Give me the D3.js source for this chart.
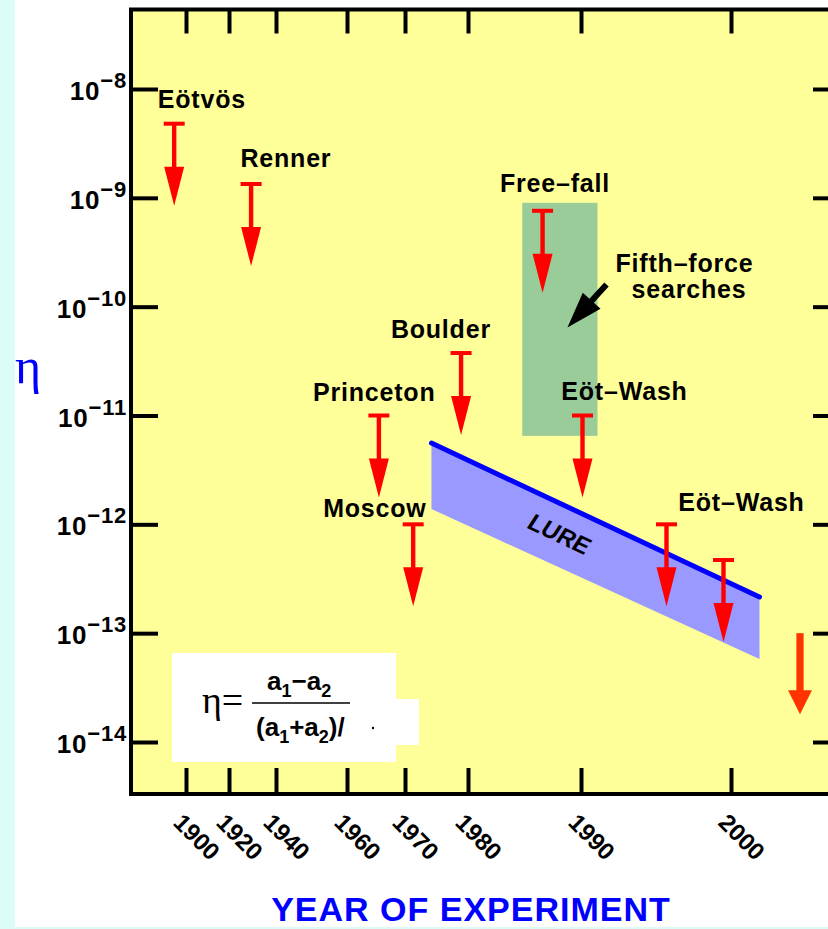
<!DOCTYPE html>
<html>
<head>
<meta charset="utf-8">
<script src="https://cdn.jsdelivr.net/npm/d3@7"></script>
<style>
  html, body { margin: 0; padding: 0; background: #ffffff; }
  svg { display: block; }
  text { font-family: "Liberation Sans", Arial, Helvetica, sans-serif; }
</style>
</head>
<body>
<svg id="chart" width="828" height="929"></svg>
<script>
// ---- data -------------------------------------------------------------
// Year ticks of the (non-uniform) time axis
const yearTicks = [1900, 1920, 1940, 1960, 1970, 1980, 1990, 2000];
// Decade ticks of the η axis, as powers of ten
const etaExponents = [-8, -9, -10, -11, -12, -13, -14];

// Upper limits on η set by each experiment
const limitYears  = [1894.5, 1929.4, 1965.5, 1971.3, 1978.9, 1986.6, 1990.1, 1995.7, 1999.5];
const limitValues = [4.8e-9, 1.34e-9, 1e-11, 1e-12, 3.75e-11, 7.6e-10, 1e-11, 1e-12, 4.7e-13];

// Experiment names and where they sit (year, η at the text baseline)
const labelTexts = ["Eötvös", "Renner", "Free–fall", "Boulder", "Princeton", "Eöt–Wash", "Moscow", "Eöt–Wash"];
const labelYears = [1907.4, 1942.8, 1987.7, 1975.7, 1964.7, 1992.9, 1964.8, 2000.7];
const labelEtas  = [6.7e-9, 1.94e-9, 1.13e-9, 5.14e-11, 1.36e-11, 1.39e-11, 1.16e-12, 1.32e-12];

// Fifth-force search region
const fifthYears = [1984.8, 1991.1];
const fifthEtas  = [6.5e-12, 9.0e-10];
const fifthLabelLines = ["Fifth–force", "searches"];
const fifthLabelYears = [1996.9, 1997.2];
const fifthLabelEtas  = [2.08e-10, 1.2e-10];
// pointer from the caption into the region: [tail, tip]
const fifthPointerYears = [1991.7, 1988.8];
const fifthPointerEtas  = [1.6e-10, 6.45e-11];

// Lunar laser ranging band: start/end years, upper and lower edges
const lureYears = [1974.2, 2001.9];
const lureUpper = [5.58e-12, 2.15e-13];
const lureLower = [1.38e-12, 5.78e-14];
const lureLabelYear = 1987.7;
const lureLabelEta  = 7.0e-13;

// Projected future sensitivity
const projectionYear = 2004.6;
const projectionEtas = [1e-13, 1.8e-14];

// ---- layout -----------------------------------------------------------
const W = 828, H = 929;
const plotLeft = 131, plotRight = 841, plotTop = 9.5, plotBottom = 794;
const yearTickX = [186, 229, 276, 347, 405, 468, 581, 731];

const x = d3.scaleLinear().domain(yearTicks).range(yearTickX);
const y = d3.scaleLog().domain([1e-14, 1e-8]).range([742, 89]);

const svg = d3.select("#chart");

// page frame
svg.append("rect").attr("x", 0).attr("y", 0).attr("width", W).attr("height", H).attr("fill", "#ffffff");

// plot background
svg.append("rect")
  .attr("x", plotLeft).attr("y", plotTop)
  .attr("width", plotRight - plotLeft).attr("height", plotBottom - plotTop)
  .attr("fill", "#ffff99");

// fifth-force region
svg.append("rect")
  .attr("x", x(fifthYears[0])).attr("y", y(fifthEtas[1]))
  .attr("width", x(fifthYears[1]) - x(fifthYears[0]))
  .attr("height", y(fifthEtas[0]) - y(fifthEtas[1]))
  .attr("fill", "#99cc99");

// LURE band
const lureBand = [
  [x(lureYears[0]), y(lureUpper[0])],
  [x(lureYears[1]), y(lureUpper[1])],
  [x(lureYears[1]), y(lureLower[1])],
  [x(lureYears[0]), y(lureLower[0])]
];
svg.append("path")
  .attr("d", d3.line()(lureBand) + "Z")
  .attr("fill", "#9999ff");
svg.append("line")
  .attr("x1", x(lureYears[0])).attr("y1", y(lureUpper[0]))
  .attr("x2", x(lureYears[1])).attr("y2", y(lureUpper[1]))
  .attr("stroke", "#0000ff").attr("stroke-width", 5).attr("stroke-linecap", "round");

const lx = x(lureLabelYear), ly = y(lureLabelEta);
const lureAngle = Math.atan2(y(lureUpper[1]) - y(lureUpper[0]), x(lureYears[1]) - x(lureYears[0])) * 180 / Math.PI;
svg.append("text")
  .attr("transform", `translate(${lx},${ly}) rotate(${lureAngle}) skewX(-8)`)
  .attr("text-anchor", "middle")
  .attr("font-size", 24).attr("font-weight", "bold")
  .text("LURE");

// upper-limit arrows
const limits = limitYears.map((yr, i) => ({ year: yr, value: limitValues[i] }));
const arrowG = svg.append("g").attr("fill", "#ff0000");
limits.forEach(d => {
  const cx = x(d.year), cy = y(d.value);
  // cap marking the limit
  arrowG.append("rect").attr("x", cx - 10.5).attr("y", cy - 2).attr("width", 21).attr("height", 4);
  // stem
  arrowG.append("rect").attr("x", cx - 2.2).attr("y", cy).attr("width", 4.4).attr("height", 46);
  // head
  arrowG.append("path").attr("d", d3.line()([[cx - 10, cy + 43], [cx + 10, cy + 43], [cx, cy + 82]]) + "Z");
});

// projected sensitivity arrow
{
  const cx = x(projectionYear), y0 = y(projectionEtas[0]), y1 = y(projectionEtas[1]);
  const g = svg.append("g").attr("fill", "#ff3300");
  g.append("rect").attr("x", cx - 3.6).attr("y", y0).attr("width", 7.2).attr("height", (y1 - y0) - 22);
  g.append("path").attr("d", d3.line()([[cx - 12, y1 - 24], [cx + 12, y1 - 24], [cx, y1]]) + "Z");
}

// experiment labels
labelTexts.forEach((t, i) => {
  svg.append("text")
    .attr("x", x(labelYears[i])).attr("y", y(labelEtas[i]))
    .attr("text-anchor", "middle")
    .attr("font-size", 25).attr("font-weight", "bold")
    .attr("letter-spacing", 0.8)
    .text(t);
});
fifthLabelLines.forEach((t, i) => {
  svg.append("text")
    .attr("x", x(fifthLabelYears[i])).attr("y", y(fifthLabelEtas[i]))
    .attr("text-anchor", "middle")
    .attr("font-size", 25).attr("font-weight", "bold")
    .attr("letter-spacing", 0.8)
    .text(t);
});

// pointer into the fifth-force region
{
  const tx = x(fifthPointerYears[0]), ty = y(fifthPointerEtas[0]);
  const px = x(fifthPointerYears[1]), py = y(fifthPointerEtas[1]);
  const len = Math.hypot(px - tx, py - ty);
  const ux = (px - tx) / len, uy = (py - ty) / len;
  const nx = -uy, ny = ux;
  const headLen = 36, headHalf = 12, shaftHalf = 3;
  const bx = px - ux * headLen, by = py - uy * headLen;
  const pts = [
    [tx + nx * shaftHalf, ty + ny * shaftHalf],
    [bx + nx * shaftHalf, by + ny * shaftHalf],
    [bx + nx * headHalf, by + ny * headHalf],
    [px, py],
    [bx - nx * headHalf, by - ny * headHalf],
    [bx - nx * shaftHalf, by - ny * shaftHalf],
    [tx - nx * shaftHalf, ty - ny * shaftHalf]
  ];
  svg.append("path").attr("d", d3.line()(pts) + "Z").attr("fill", "#000000");
}

// definition of η
{
  const g = svg.append("g");
  g.append("rect").attr("x", 172).attr("y", 653).attr("width", 224).attr("height", 109).attr("fill", "#ffffff");
  g.append("text").attr("x", 202).attr("y", 713)
    .style("font-family", "'Liberation Serif', 'Times New Roman', serif")
    .attr("font-size", 38).text("η=");
  g.append("line").attr("x1", 252).attr("x2", 352).attr("y1", 703).attr("y2", 703)
    .attr("stroke", "#000").attr("stroke-width", 1.5);
  const num = g.append("text").attr("x", 267).attr("y", 690).attr("font-size", 26).attr("font-weight", "bold");
  num.append("tspan").text("a");
  num.append("tspan").attr("font-size", 18).attr("dy", 7).text("1");
  num.append("tspan").attr("dy", -7).text("−a");
  num.append("tspan").attr("font-size", 18).attr("dy", 7).text("2");
  const den = g.append("text").attr("x", 256).attr("y", 736).attr("font-size", 26).attr("font-weight", "bold");
  den.append("tspan").text("(a");
  den.append("tspan").attr("font-size", 18).attr("dy", 7).text("1");
  den.append("tspan").attr("dy", -7).text("+a");
  den.append("tspan").attr("font-size", 18).attr("dy", 7).text("2");
  den.append("tspan").attr("dy", -7).text(")/");
  g.append("rect").attr("x", 350).attr("y", 699).attr("width", 69).attr("height", 46).attr("fill", "#ffffff");
  g.append("circle").attr("cx", 373).attr("cy", 728).attr("r", 1.2).attr("fill", "#000");
}

// ---- axes -------------------------------------------------------------
const tickStyle = sel => {
  sel.select(".domain").remove();
  sel.selectAll(".tick line").attr("stroke", "#000").attr("stroke-width", 4);
  sel.selectAll(".tick text").remove();
};
const etaTicks = etaExponents.map(e => Math.pow(10, e));

svg.append("g").attr("transform", `translate(${plotLeft},0)`)
  .call(d3.axisLeft(y).tickValues(etaTicks).tickSize(-27).tickSizeOuter(0))
  .call(tickStyle);
svg.append("g").attr("transform", `translate(${plotRight},0)`)
  .call(d3.axisRight(y).tickValues(etaTicks).tickSize(-28).tickSizeOuter(0))
  .call(tickStyle);
svg.append("g").attr("transform", `translate(0,${plotBottom})`)
  .call(d3.axisBottom(x).tickValues(yearTicks).tickSize(-26).tickSizeOuter(0))
  .call(tickStyle);
svg.append("g").attr("transform", `translate(0,${plotTop})`)
  .call(d3.axisTop(x).tickValues(yearTicks).tickSize(-24).tickSizeOuter(0))
  .call(tickStyle);

// frame
svg.append("path")
  .attr("d", `M${plotRight},${plotTop}H${plotLeft}V${plotBottom}H${plotRight}`)
  .attr("fill", "none").attr("stroke", "#000").attr("stroke-width", 4)
  .attr("stroke-linecap", "square");

// η tick labels: 10 with a superscript exponent
etaExponents.forEach(e => {
  const t = svg.append("text")
    .attr("x", 127).attr("y", y(Math.pow(10, e)) + 11)
    .attr("text-anchor", "end")
    .attr("font-weight", "bold");
  t.append("tspan").attr("font-size", 26).attr("letter-spacing", 0.8).text("10");
  t.append("tspan").attr("font-size", 22).attr("dy", -12).attr("letter-spacing", 0.8).text("−" + Math.abs(e));
});

// year tick labels, slanted
yearTicks.forEach(yr => {
  svg.append("text")
    .attr("transform", `translate(${x(yr) - 14},${plotBottom + 30}) rotate(45)`)
    .attr("font-size", 24).attr("font-weight", "bold")
    .text(yr);
});

// axis titles
svg.append("text")
  .attr("x", 15).attr("y", 383)
  .style("font-family", "'Liberation Serif', 'Times New Roman', serif")
  .attr("font-size", 50).attr("fill", "#0000ff")
  .text("η");
svg.append("text")
  .attr("x", 471).attr("y", 921)
  .attr("text-anchor", "middle")
  .attr("font-size", 34).attr("font-weight", "bold").attr("fill", "#0000ff")
  .attr("letter-spacing", 1)
  .text("YEAR OF EXPERIMENT");

// light cyan page margins
svg.append("rect").attr("x", 0).attr("y", 0).attr("width", 15).attr("height", H).attr("fill", "#dcfcf8");
svg.append("rect").attr("x", 0).attr("y", 927).attr("width", W).attr("height", 2).attr("fill", "#dcfcf8");
</script>
</body>
</html>
